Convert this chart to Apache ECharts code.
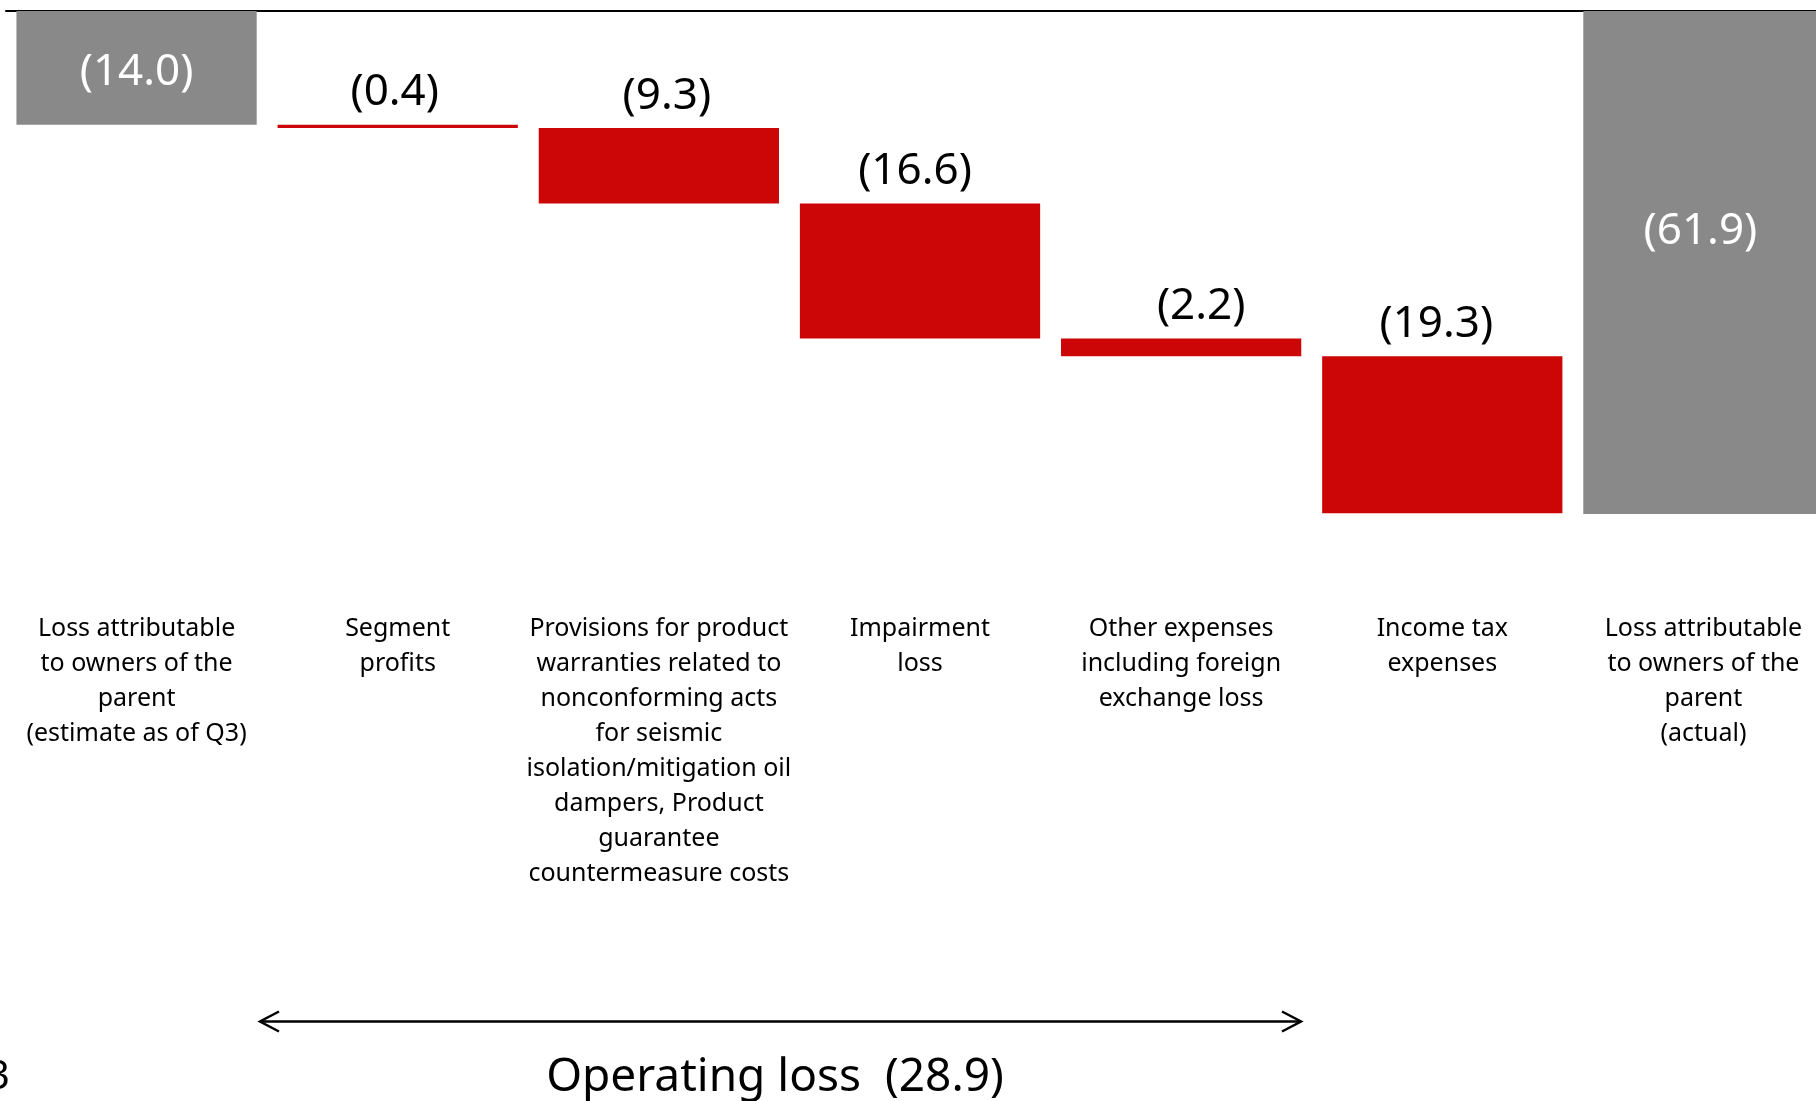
<!DOCTYPE html>
<html>
<head>
<meta charset="utf-8">
<script src="https://cdn.jsdelivr.net/npm/echarts@6/dist/echarts.min.js"></script>
<style>
  html, body { margin: 0; padding: 0; background: #ffffff; overflow: hidden; }
  #chart { width: 1816px; height: 1101px; }
</style>
</head>
<body>
<div id="chart"></div>
<script>
// Bridge from the Q3 loss estimate to the actual loss attributable to owners of the parent
const categories = [
  'Loss attributable\nto owners of the\nparent\n(estimate as of Q3)',
  'Segment\nprofits',
  'Provisions for product\nwarranties related to\nnonconforming acts\nfor seismic\nisolation/mitigation oil\ndampers, Product\nguarantee\ncountermeasure costs',
  'Impairment\nloss',
  'Other expenses\nincluding foreign\nexchange loss',
  'Income tax\nexpenses',
  'Loss attributable\nto owners of the\nparent\n(actual)'
];
// Loss amounts (shown in parentheses)
const amounts = [14.0, 0.4, 9.3, 16.6, 2.2, 19.3, 61.9];
// true = total bar (starts at zero), false = step in the bridge
const isTotal = [true, false, false, false, false, false, true];
const operatingLossLabel = 'Operating loss  (28.9)';

const GREY = '#898989';
const RED = '#cc0606';

// floating offsets for the steps, accumulated from the amounts
const bases = [];
let running = 0;
amounts.forEach(function (v, i) {
  if (isTotal[i]) { bases.push(0); running = v; }
  else { bases.push(running); running += v; }
});

// small horizontal nudges of the value labels
const labelNudge = [0, -3, 8, -5, 20, -6, -3];

const fmt = function (v) { return '(' + v.toFixed(1) + ')'; };

const barData = amounts.map(function (v, i) {
  if (isTotal[i]) {
    return {
      value: v,
      itemStyle: { color: GREY },
      label: {
        show: true, position: 'inside', color: '#ffffff',
        offset: [labelNudge[i], i === 0 ? 5 : -31]
      }
    };
  }
  return {
    value: v,
    itemStyle: { color: RED },
    label: {
      show: true, position: 'top', distance: 10, color: '#000000',
      offset: [labelNudge[i], 0]
    }
  };
});

const chart = echarts.init(document.getElementById('chart'), null, { renderer: 'canvas' });

const arrowY = 1021.5;
const arrowX0 = 260;
const arrowX1 = 1301;

chart.setOption({
  animation: false,
  backgroundColor: '#ffffff',
  grid: {
    left: 6, top: 11, width: 1828, height: 585,
    containLabel: false, outerBoundsMode: 'none'
  },
  xAxis: [
    {
      type: 'category', data: categories, position: 'top',
      axisLine: { show: true, lineStyle: { color: '#000000', width: 2 } },
      axisTick: { show: false }, axisLabel: { show: false }, splitLine: { show: false }
    },
    {
      type: 'category', data: categories, position: 'bottom',
      axisLine: { show: false }, axisTick: { show: false }, splitLine: { show: false },
      axisLabel: {
        show: true, interval: 0, margin: 15, hideOverlap: false,
        color: '#000000', fontFamily: 'Noto Sans', fontSize: 25, lineHeight: 35,
        align: 'center', verticalAlign: 'top'
      }
    }
  ],
  yAxis: {
    type: 'value', inverse: true, min: 0, max: 72,
    show: false, splitLine: { show: false }
  },
  series: [
    {
      name: 'base', type: 'bar', stack: 'bridge', xAxisIndex: 0,
      data: bases, barWidth: '92%',
      itemStyle: { color: 'transparent' }, silent: true, label: { show: false }
    },
    {
      name: 'amount', type: 'bar', stack: 'bridge', xAxisIndex: 0,
      data: barData, barWidth: '92%',
      label: {
        fontFamily: 'Noto Sans', fontSize: 44,
        formatter: function (p) { return fmt(p.value); }
      }
    }
  ],
  graphic: [
    {
      type: 'line', silent: true,
      shape: { x1: arrowX0, y1: arrowY, x2: arrowX1, y2: arrowY },
      style: { stroke: '#000000', lineWidth: 2.5 }
    },
    {
      type: 'polyline', silent: true,
      shape: { points: [[arrowX0 + 19, arrowY - 10], [arrowX0, arrowY], [arrowX0 + 19, arrowY + 10]] },
      style: { stroke: '#000000', lineWidth: 2.5, fill: null }
    },
    {
      type: 'polyline', silent: true,
      shape: { points: [[arrowX1 - 19, arrowY - 10], [arrowX1, arrowY], [arrowX1 - 19, arrowY + 10]] },
      style: { stroke: '#000000', lineWidth: 2.5, fill: null }
    },
    {
      type: 'text', silent: true,
      x: 775, y: 1078,
      style: {
        text: operatingLossLabel, fill: '#000000',
        fontFamily: 'Noto Sans', fontSize: 46,
        align: 'center', verticalAlign: 'middle'
      }
    },
    {
      type: 'text', silent: true,
      x: -13, y: 1078,
      style: {
        text: '3', fill: '#000000',
        fontFamily: 'Noto Sans', fontSize: 40,
        align: 'left', verticalAlign: 'middle'
      }
    }
  ]
});
</script>
</body>
</html>
